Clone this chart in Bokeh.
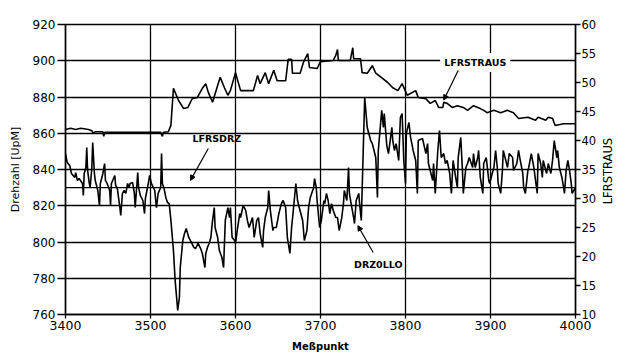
import math
from bokeh.plotting import figure
from bokeh.models import Range1d, LinearAxis, FixedTicker, Label, Arrow, NormalHead, Span
from bokeh.embed import file_html
from bokeh.resources import INLINE

# ---------------- data ----------------
x_ticks = [3400, 3500, 3600, 3700, 3800, 3900, 4000]
left_ticks = [760, 780, 800, 820, 840, 860, 880, 900, 920]
right_ticks = [10, 15, 20, 25, 30, 35, 40, 45, 50, 55, 60]
lfrsdrz = 830  # Drehzahl set value

# DRZ0LLO (left axis, UpM)
x_drz = [3400,3402,3405,3407,3411,3412,3414,3416,3420,3421,3422,3424,3425,3426,3428,3429,3431,3432,3434,3435,
         3438,3440,3441,3444,3446,3447,3449,3452,3453,3454,3458,3459,3461,3464,3465,3467,3469,3471,3473,3475,
         3476,3479,3481,3482,3485,3486,3488,3491,3493,3494,3498,3499,3501,3505,3507,3509,3512,3513,3514,3516,
         3518,3520,3522,3524,3527,3529,3532,3534,3535,3538,3540,3542,3545,3547,3551,3553,3556,3559,3561,3564,
         3565,3567,3569,3571,3573,3575,3576,3579,3581,3584,3586,3587,3588,3591,3593,3594,3596,3599,3600,3602,
         3605,3606,3609,3612,3614,3616,3620,3622,3625,3627,3629,3632,3633,3635,3638,3639,3641,3644,3645,3648,
         3651,3654,3656,3659,3661,3664,3666,3668,3671,3673,3675,3679,3681,3684,3686,3688,3692,3693,3695,3696,
         3699,3701,3704,3705,3707,3709,3711,3713,3715,3718,3720,3722,3725,3727,3728,3731,3733,3734,3736,3739,
         3740,3742,3745,3746,3748,3752,3755,3759,3761,3765,3767,3768,3772,3774,3775,3778,3780,3784,3785,3787,
         3789,3792,3794,3796,3798,3800,3801,3804,3806,3809,3812,3814,3815,3820,3824,3826,3827,3832,3833,3835,
         3838,3840,3842,3845,3847,3849,3852,3854,3856,3859,3861,3862,3865,3867,3868,3871,3873,3875,3879,3880,
         3882,3885,3886,3888,3891,3892,3895,3898,3899,3902,3904,3906,3908,3909,3912,3914,3915,3918,3920,3922,
         3926,3927,3931,3933,3935,3938,3939,3941,3944,3945,3948,3951,3953,3955,3956,3959,3961,3962,3966,3968,
         3971,3973,3975,3978,3979,3981,3984,3986,3987,3989,3991,3993,3995,3996,3998,4000]
y_drz = [848.8,843.9,842.2,837.8,835.6,838.3,833.9,835.0,832.3,825.7,837.8,841.1,852.1,839.5,832.3,830.1,841.1,854.9,837.8,833.9,
         828.4,820.1,832.3,837.8,843.3,833.9,832.3,828.4,820.1,832.3,836.7,831.2,829.5,819.0,814.6,826.8,828.4,826.8,832.3,830.1,
         832.3,832.8,826.8,819.0,838.3,830.1,825.7,822.9,815.7,824.0,833.9,836.7,832.3,828.4,819.0,826.8,830.1,848.8,832.3,829.5,
         824.6,821.8,821.2,811.9,795.3,778.8,762.2,769.4,785.9,800.8,804.7,807.5,802.5,800.8,797.0,796.4,799.2,796.4,793.7,785.9,
         793.7,797.0,799.2,802.5,811.9,819.0,808.0,802.5,795.3,791.5,785.9,799.2,811.9,819.0,813.5,819.0,802.5,800.8,799.2,806.3,
         815.7,813.5,820.1,817.4,811.9,808.0,813.5,802.5,811.9,813.5,804.7,797.0,806.3,813.5,819.0,828.4,817.4,806.3,808.0,808.0,
         815.7,821.2,822.9,819.0,802.5,793.7,808.0,817.4,832.3,822.9,819.0,811.9,800.8,806.3,819.0,824.6,830.1,835.0,830.1,822.9,
         808.0,811.9,822.9,821.2,826.8,822.9,815.7,821.2,817.4,813.5,813.5,806.3,813.5,821.2,828.4,822.9,841.1,826.8,821.2,813.5,
         810.2,822.9,826.8,821.2,811.9,879.7,863.2,856.0,854.3,846.6,824.6,850.5,872.6,863.2,870.9,853.2,848.8,863.2,856.0,850.5,
         854.3,845.0,868.7,870.9,845.0,832.3,859.9,865.9,857.7,850.5,845.0,826.8,856.0,857.1,848.8,854.3,843.3,833.9,843.3,826.8,
         850.5,861.5,846.6,848.8,843.3,845.0,837.8,826.8,845.0,835.6,830.1,846.6,857.7,839.5,826.8,841.1,843.3,846.6,841.1,848.8,
         841.1,846.6,850.5,835.6,826.8,843.3,846.6,833.9,832.3,837.8,841.1,850.5,841.1,832.3,826.8,839.5,850.5,845.0,841.1,848.8,
         846.6,839.5,843.3,850.5,845.0,837.8,830.1,826.8,839.5,841.1,848.8,841.1,833.9,826.8,848.8,843.3,835.6,845.0,837.8,843.3,
         837.8,845.0,856.0,846.6,850.5,841.1,835.6,830.1,826.8,839.5,845.0,839.5,832.3,826.8,828.4,830.0]

# LFRSTRAUS (right axis)
x_str = [3400,3406,3412,3418,3427,3431,3433,3435,3444,3445,3446,3512,3514,3515,3521,3524,3527,3533,3539,3544,
         3549,3555,3561,3565,3568,3573,3578,3582,3587,3591,3594,3600,3606,3612,3621,3626,3629,3635,3639,3645,
         3649,3659,3662,3666,3667,3676,3680,3685,3687,3696,3700,3715,3718,3720,3721,3735,3738,3739,3747,3749,
         3755,3761,3765,3773,3779,3785,3791,3796,3802,3812,3815,3824,3829,3835,3839,3844,3845,3849,3855,3861,
         3868,3873,3880,3888,3892,3896,3904,3912,3920,3927,3933,3944,3953,3956,3965,3968,3973,3976,3986,3994,4000]
y_str = [41.9,42.1,41.9,42.1,41.9,41.7,41.2,41.5,41.5,40.7,41.4,41.4,40.7,41.4,41.5,42.6,49.0,46.9,45.5,45.7,
         47.2,47.4,49.0,49.8,48.3,46.6,49.0,50.9,49.1,47.8,48.6,51.7,48.6,48.6,48.6,51.2,49.8,51.7,49.8,52.1,
         50.3,50.3,54.0,54.0,51.6,51.6,53.5,55.0,52.6,52.4,53.6,53.8,54.7,55.7,53.8,53.8,56.0,54.1,54.1,51.7,
         51.6,52.9,51.6,50.7,50.0,49.1,48.6,49.8,47.8,48.6,47.4,47.2,46.4,46.9,45.7,45.7,46.6,46.4,45.7,46.0,
         45.7,45.2,46.0,45.5,45.2,44.8,45.2,44.8,45.2,44.8,43.8,44.0,43.5,44.0,43.5,44.0,43.8,42.6,42.9,42.9,42.9]

n1 = min(len(x_drz), len(y_drz))
x_drz, y_drz = x_drz[:n1], y_drz[:n1]
n2 = min(len(x_str), len(y_str))
x_str, y_str = x_str[:n2], y_str[:n2]

FONT = "DejaVu Sans"

p = figure(width=625, height=355, x_range=Range1d(3400, 4000), y_range=Range1d(760, 920),
           output_backend="svg", toolbar_location=None,
           min_border_left=65, min_border_right=50, min_border_top=24, min_border_bottom=41)
p.extra_y_ranges = {"r": Range1d(10, 60)}
p.background_fill_color = "white"
p.border_fill_color = "white"
p.outline_line_color = "black"
p.outline_line_width = 1.5
p.outline_line_alpha = 1

# axes
p.xaxis.ticker = FixedTicker(ticks=x_ticks)
p.yaxis.ticker = FixedTicker(ticks=left_ticks)
p.xaxis.axis_label = "Meßpunkt"
p.yaxis.axis_label = "Drehzahl [UpM]"

raxis = LinearAxis(y_range_name="r", ticker=FixedTicker(ticks=right_ticks))
p.add_layout(raxis, "right")

for ax in [p.xaxis[0], p.yaxis[0], raxis]:
    ax.axis_line_color = "black"
    ax.axis_line_width = 1.3
    ax.major_tick_line_color = "black"
    ax.major_tick_line_width = 1.3
    ax.minor_tick_line_color = None
    ax.major_tick_in = 0
    ax.major_label_text_color = "black"
    ax.major_label_text_font = FONT
    ax.axis_label_text_font = FONT
    ax.axis_label_text_color = "black"
    ax.axis_label_text_font_style = "normal"

p.xaxis.major_tick_out = 4
p.xaxis.major_label_standoff = 2
p.xaxis.major_label_text_font_size = "12.5px"
p.xaxis.axis_label_text_font_size = "10px"
p.xaxis.axis_label_text_font_style = "bold"
p.xaxis.axis_label_standoff = 8

p.yaxis[0].major_tick_out = 8
p.yaxis[0].major_label_standoff = 2
p.yaxis[0].major_label_text_font_size = "12px"
p.yaxis[0].axis_label_text_font_size = "11px"
p.yaxis[0].axis_label_standoff = 8

raxis.major_tick_out = 5
raxis.major_label_standoff = 1
raxis.major_label_text_font_size = "11.5px"

# title of the right scale, drawn as a rotated label (reads bottom-to-top as in the original)
right_title = "LFRSTRAUS"
right_title_at = 29  # right-axis value where the title starts
labaxis = LinearAxis(y_range_name="r", ticker=FixedTicker(ticks=[right_title_at]),
                     major_label_overrides={right_title_at: right_title},
                     major_label_orientation=math.pi / 2,
                     axis_line_color=None, major_tick_line_color=None, minor_tick_line_color=None,
                     major_tick_out=0, major_tick_in=0, major_label_standoff=9,
                     major_label_text_font=FONT, major_label_text_font_size="11.5px",
                     major_label_text_color="black")
p.add_layout(labaxis, "right")

# grid
p.xgrid.ticker = FixedTicker(ticks=x_ticks[1:-1])
p.ygrid.ticker = FixedTicker(ticks=left_ticks[1:-1])
p.grid.grid_line_color = "black"
p.grid.grid_line_width = 1.3
p.grid.grid_line_alpha = 1

p.add_layout(Span(location=lfrsdrz, dimension="width", line_color="black", line_width=1.3))

# series
p.line(x_drz, y_drz, line_color="black", line_width=1.6)
p.line(x_str, y_str, line_color="black", line_width=1.6, y_range_name="r")

# annotations
lab_kw = dict(text_font=FONT, text_font_style="bold", text_font_size="9.5px", text_color="black",
              text_align="center", text_baseline="middle")
p.add_layout(Label(x=3882, y=899.0, text="LFRSTRAUS", background_fill_color="white",
                   background_fill_alpha=1, padding=4, **lab_kw))
p.add_layout(Label(x=3578, y=857.0, text="LFRSDRZ", **lab_kw))
p.add_layout(Label(x=3768, y=787.6, text="DRZ0LLO", **lab_kw))

for xs, ys, xe, ye in [(3862, 894.6, 3845, 878.3), (3568, 851.6, 3547, 834.0), (3762, 794.2, 3744, 809.0)]:
    p.add_layout(Arrow(x_start=xs, y_start=ys, x_end=xe, y_end=ye, line_width=1.2, line_color="black",
                       end=NormalHead(size=5, fill_color="black", line_color="black")))

open("out.html", "w").write(file_html(p, INLINE))
